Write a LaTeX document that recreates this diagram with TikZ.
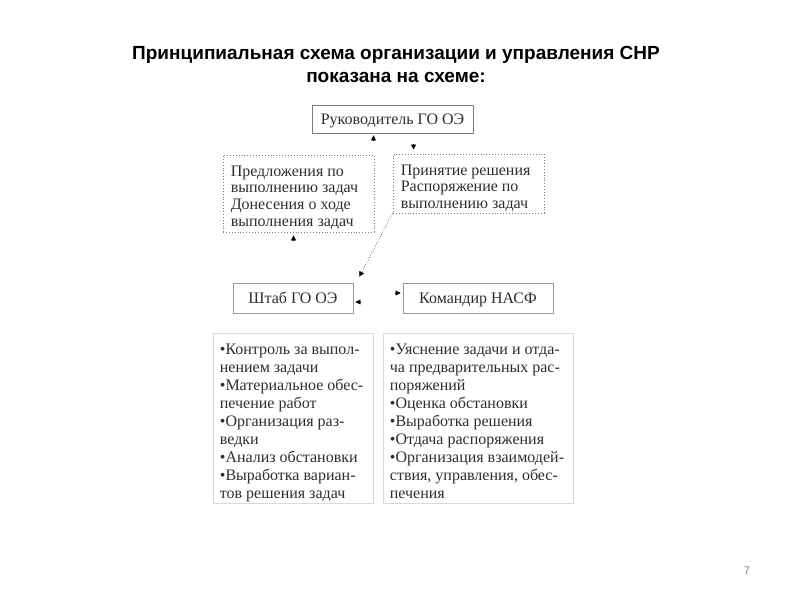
\documentclass[tikz,border=0pt]{standalone}
\usepackage{fontspec}
\setmainfont{Liberation Serif}
\newfontfamily\titlefont{Liberation Sans}
\definecolor{edgegray}{HTML}{7F7F7F}
\definecolor{panelgray}{HTML}{DADADA}
\definecolor{inkgray}{HTML}{2E2E2E}
\usetikzlibrary{arrows.meta,calc,positioning}

\begin{document}
\begin{tikzpicture}[
    x=1pt, y=-1pt,
    every node/.style={font=\fontsize{16}{16.7}\selectfont, text=inkgray},
    box/.style={rectangle, draw=edgegray, line width=0.8pt, inner sep=0pt, text depth=0pt},
    dotbox/.style={rectangle, draw=edgegray, dotted, line width=0.9pt, inner sep=0pt},
    panel/.style={rectangle, draw=panelgray, line width=0.6pt, inner sep=0pt},
    txt/.style={align=left, inner sep=0pt},
    tip/.style={-{Triangle[length=5pt,width=5pt]}, black, line width=0.4pt},
    link/.style={-{Triangle[length=5pt,width=5pt]}, black, dotted, line width=0.6pt}
    ]
    \useasboundingbox (0,0) rectangle (800,600);
    % title
    \node[align=center, font=\titlefont\bfseries\fontsize{19}{23}\selectfont, text=black] (title) at (396,64)
        {Принципиальная схема организации и управления СНР\\ показана на схеме:};
    % upper level
    \node[box, minimum width=161, minimum height=28] (ruk) at (392.5,119) {Руководитель ГО ОЭ};
    \node[dotbox, minimum width=151, minimum height=77] (pred) at (298.5,193.5) {};
    \node[txt, anchor=north west] (predtxt) at ($(pred.north west)+(8,11)$)
        {Предложения по\\ выполнению задач\\ Донесения о ходе\\ выполнения задач};
    \node[dotbox, minimum width=151, minimum height=59] (prin) at (468.5,183.5) {};
    \begin{scope}
      \clip (prin.north west) rectangle (prin.south east);
      \node[txt, anchor=north west] (printxt) at ($(prin.north west)+(8,11)$)
          {Принятие решения\\ Распоряжение по\\ выполнению задач};
    \end{scope}
    % lower level
    \node[box, draw=edgegray!80, minimum width=120, minimum height=30] (shtab) at (293,298) {Штаб ГО ОЭ};
    \node[box, draw=edgegray!80, minimum width=150, minimum height=30] (kom) at (478,298) {Командир НАСФ};
    % task lists
    \node[panel, minimum width=160, minimum height=170] (lpanel) at (293,418) {};
    \node[txt, anchor=north west, font=\fontsize{16}{18}\selectfont] (ltxt) at ($(lpanel.north west)+(7,11)$)
        {•Контроль за выпол-\\ нением задачи\\ •Материальное обес-\\ печение работ\\
         •Организация раз-\\ ведки\\ •Анализ обстановки\\ •Выработка вариан-\\ тов решения задач};
    \node[panel, minimum width=190, minimum height=170] (rpanel) at (478,418) {};
    \node[txt, anchor=north west, font=\fontsize{16}{18}\selectfont] (rtxt) at ($(rpanel.north west)+(7,11)$)
        {•Уяснение задачи и отда-\\ ча предварительных рас-\\ поряжений\\ •Оценка обстановки\\
         •Выработка решения\\ •Отдача распоряжения\\ •Организация взаимодей-\\ ствия, управления, обес-\\ печения};
    % arrow tips
    \coordinate (t1) at ($(ruk.south)+(-19,2)$);
    \draw[tip] ($(t1)+(0,6)$) -- (t1);
    \coordinate (t2) at ($(prin.north west)+(21,-4)$);
    \draw[tip] ($(t2)+(0,-6)$) -- (t2);
    \coordinate (t3) at ($(pred.south)+(-5,3)$);
    \draw[tip] ($(t3)+(0,6)$) -- (t3);
    \coordinate (t4) at ($(shtab.east)+(2,4)$);
    \draw[tip] ($(t4)+(6,0)$) -- (t4);
    \coordinate (t5) at ($(kom.west)+(-2,-5)$);
    \draw[tip] ($(t5)+(-6,0)$) -- (t5);
    % dotted link
    \draw[link] (prin.south west) -- ($(shtab.north east)+(6,-6)$);
    % page number
    \node[font=\titlefont\fontsize{11}{13}\selectfont, text=edgegray] (page) at (747,571) {7};
\end{tikzpicture}
\end{document}
